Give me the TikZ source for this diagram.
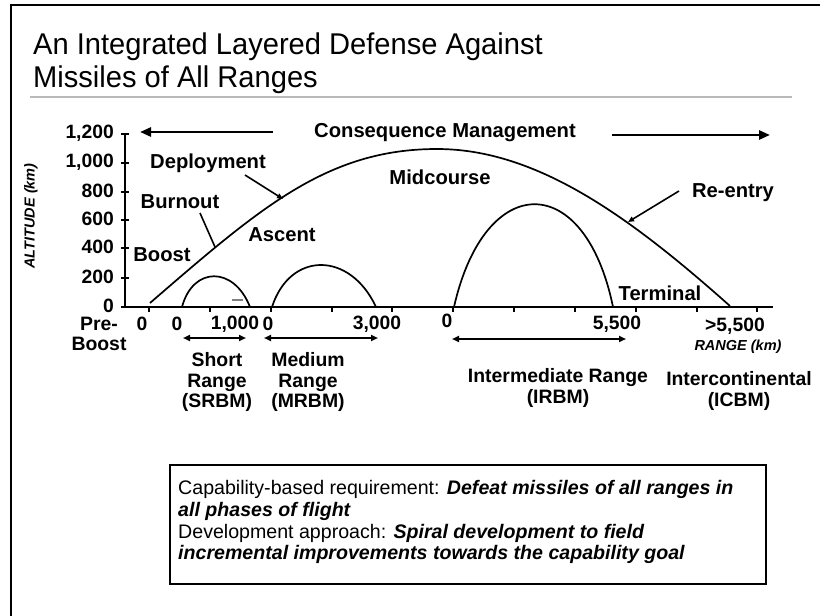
\documentclass[tikz,border=0pt]{standalone}
\usepackage{fontspec}
\setmainfont{Liberation Sans}
\usetikzlibrary{arrows.meta}
\begin{document}
\begin{tikzpicture}[x=1pt,y=-1pt,
  lbl/.style={font=\fontsize{20.2}{22}\selectfont\bfseries, inner sep=0pt},
  rlbl/.style={align=center, font=\fontsize{19.4}{20.5}\selectfont\bfseries, inner sep=0pt},
  num/.style={font=\fontsize{19.3}{21}\selectfont\bfseries, inner sep=0pt},
  axlbl/.style={font=\fontsize{14.5}{16}\selectfont\bfseries\itshape, inner sep=0pt},
  traj/.style={line width=1.7pt},
  axisline/.style={line width=1.1pt},
  bigarrow/.style={line width=2.6pt, -{Triangle[length=11pt,width=9pt]}},
  rangearrow/.style={line width=1.8pt, {Triangle[length=7pt,width=6pt]}-{Triangle[length=7pt,width=6pt]}},
  pointer/.style={line width=1.6pt, -{Triangle[length=6pt,width=5pt]}},
  plainpointer/.style={line width=1.6pt}]
\useasboundingbox (0,0) rectangle (820,616);
\fill[white] (0,0) rectangle (820,616);
% slide frame
\draw[line width=2.6pt] (11,616) -- (11,5) -- (820,5);
% title
\node[anchor=west, inner sep=0pt, align=left, xscale=0.97, font=\fontsize{30}{33}\selectfont] (title) at (33,63)
  {An Integrated Layered Defense Against\\Missiles of All Ranges};
\draw[gray!55, line width=1.6pt] (30,97) -- (792,97);

% axes
\coordinate (ytop) at (125,134);
\coordinate (orig) at (125,307);
\coordinate (xend) at (773,307);
\draw[axisline] (ytop) -- (orig) -- (xend);
\foreach \y/\t in {134/{1,200},163/{1,000},192/800,220/600,248/400,278/200,307/0}{
  \draw[axisline] (121,\y) -- (129,\y);
  \node[num, anchor=east] at (114,\y-1) {\t};
}
\foreach \x in {149,210,271,332,392,453,514,575,636,697,757}{
  \draw[axisline] (\x,307) -- (\x,312);
}
\node[axlbl, rotate=90] (alt) at (31,216) {ALTITUDE (km)};

% trajectories
\coordinate (icS) at (150,303);
\coordinate (icP) at (437,149);
\coordinate (icE) at (730,306);
\draw[traj] (icS) .. controls (260,208) and (327,149) .. (icP)
            .. controls (537,149) and (630,217) .. (icE);
\coordinate (srS) at (182,307);
\coordinate (srE) at (250,307);
\draw[traj] (srS) .. controls (193,266) and (234,266) .. (srE);
\draw[gray, line width=1.2pt] (232,300) -- (243,300);
\coordinate (mrS) at (272,307);
\coordinate (mrE) at (376,307);
\draw[traj] (mrS) .. controls (290,251) and (350,251) .. (mrE);
\coordinate (irS) at (454,307);
\coordinate (irE) at (613,307);
\draw[traj] (irS) .. controls (485,170) and (585,170) .. (irE);

% consequence management
\node[lbl] (cm) at (445,133) {Consequence Management};
\coordinate (cmL) at (140,132);
\coordinate (cmLs) at (273,132);
\coordinate (cmR) at (770,135);
\coordinate (cmRs) at (612,135);
\draw[bigarrow] (cmLs) -- (cmL);
\draw[bigarrow] (cmRs) -- (cmR);

% phase labels
\node[lbl] (dep) at (208,163) {Deployment};
\node[lbl] (bur) at (180,202) {Burnout};
\node[lbl] (boo) at (162,255) {Boost};
\node[lbl] (asc) at (282,235) {Ascent};
\node[lbl] (mid) at (440,177) {Midcourse};
\node[lbl] (ree) at (733,193) {Re-entry};
\node[lbl] (ter) at (660,293) {Terminal};
\coordinate (depA) at (245,175);
\coordinate (depB) at (283,199);
\draw[pointer] (depA) -- (depB);
\coordinate (burA) at (200,213);
\coordinate (burB) at (215,247);
\draw[plainpointer] (burA) -- (burB);
\coordinate (reeA) at (679,191);
\coordinate (reeB) at (628,222);
\draw[pointer] (reeA) -- (reeB);

% x labels
\node[rlbl] (pre) at (99,334) {Pre-\\Boost};
\node[num] (x0a) at (142,324) {0};
\node[num] (x0b) at (177,324) {0};
\node[num] (x1k) at (235,324) {1,000};
\node[num] (x0c) at (268,324) {0};
\node[num] (x3k) at (377,324) {3,000};
\node[num] (x0d) at (447,321) {0};
\node[num] (x55) at (617,324) {5,500};
\node[num] (xg55) at (735,326) {>5,500};
\node[axlbl] (rng) at (738,347) {RANGE (km)};

% range arrows
\coordinate (srA) at (183,338);
\coordinate (srB) at (246,338);
\draw[rangearrow] (srA) -- (srB);
\coordinate (mrA) at (264,338);
\coordinate (mrB) at (378,338);
\draw[rangearrow] (mrA) -- (mrB);
\coordinate (irA) at (452,339);
\coordinate (irB) at (626,339);
\draw[rangearrow] (irA) -- (irB);

% range class labels
\node[rlbl] (srbm) at (217,382) {Short\\Range\\(SRBM)};
\node[rlbl] (mrbm) at (308,382) {Medium\\Range\\(MRBM)};
\node[rlbl] (irbm) at (558,388) {Intermediate Range\\(IRBM)};
\node[rlbl] (icbm) at (739,391) {Intercontinental\\(ICBM)};

% requirement box
\draw[line width=1.3pt] (170,465) rectangle (766,584);
\node[anchor=north west, inner sep=0pt, align=left, font=\fontsize{19.6}{21.8}\selectfont] (req) at (178,480)
  {Capability-based requirement: \textbf{\textit{Defeat missiles of all ranges in}}\\
   \textbf{\textit{all phases of flight}}\\
   Development approach: \textbf{\textit{Spiral development to field}}\\
   \textbf{\textit{incremental improvements towards the capability goal}}};
\end{tikzpicture}
\end{document}
